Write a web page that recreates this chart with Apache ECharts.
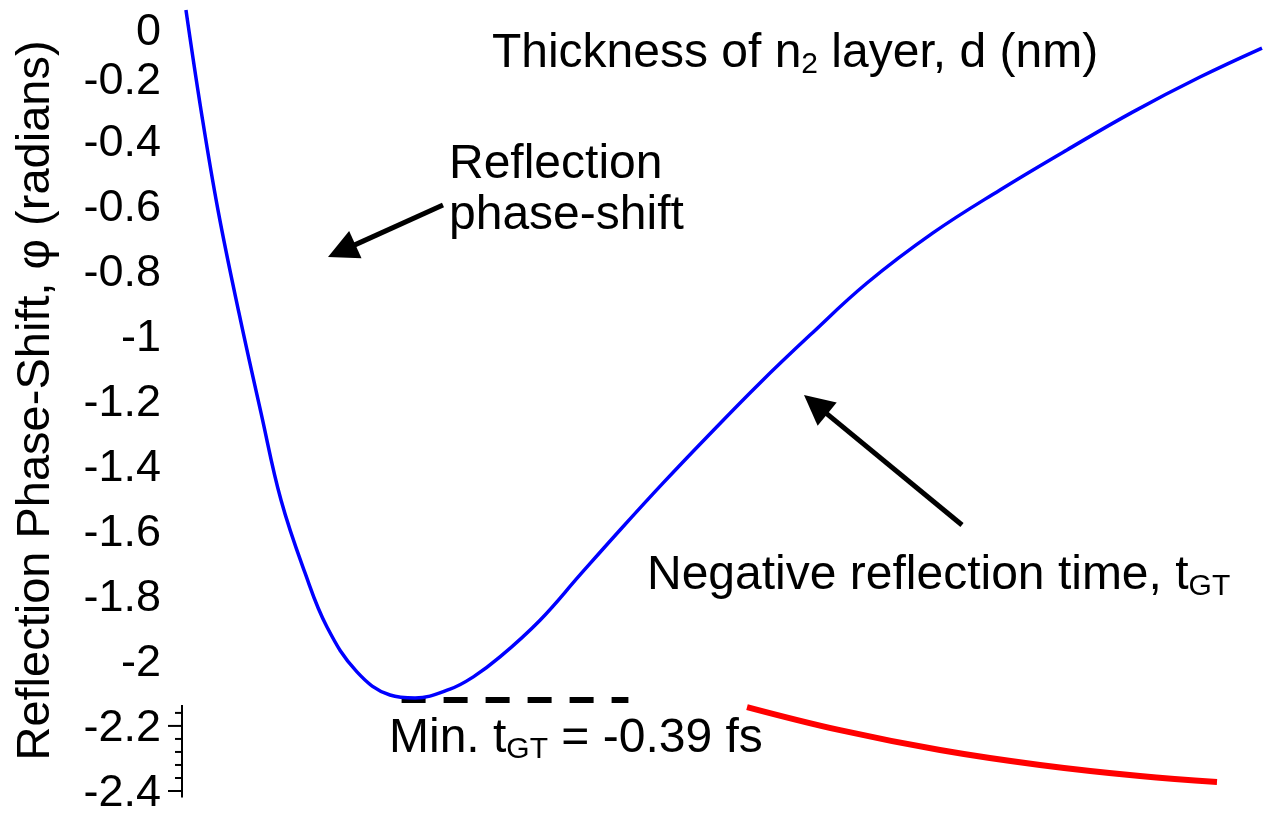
<!DOCTYPE html>
<html>
<head>
<meta charset="utf-8">
<title>Reflection phase-shift vs n2 layer thickness</title>
<script src="https://cdn.jsdelivr.net/npm/echarts@6/dist/echarts.min.js"></script>
<style>
  html, body { margin: 0; padding: 0; background: #fff; }
  #chart { width: 1264px; height: 817px; }
</style>
</head>
<body>
<div id="chart"></div>
<script>
// Thickness of the n2 layer, d (nm), and reflection phase-shift (radians)
const phaseD = [0.44, 2.11, 4.0, 6.33, 8.78, 11.0, 13.67, 16.11, 19.44, 23.11, 25.89,
  29.78, 32.33, 35.33, 39.78, 44.22, 48.67, 53.44, 58.33, 64.22, 69.78, 76.11, 83.44,
  90.89, 98.33, 105.67, 113.11, 120.0];
const phaseShift = [0.0, -0.307, -0.615, -0.931, -1.238, -1.506, -1.73, -1.896, -2.034, -2.105, -2.114,
  -2.087, -2.05, -1.988, -1.875, -1.736, -1.598, -1.454, -1.312, -1.146, -0.999, -0.839, -0.685,
  -0.553, -0.43, -0.313, -0.206, -0.117];

// Reflection time curve (drawn on the same vertical scale)
const tgtD = [62.78, 73.11, 84.22, 95.33, 106.44, 115.0];
const tgtCurve = [-2.142, -2.213, -2.274, -2.32, -2.354, -2.372];

// Level of the minimum and the span of its dashed marker
const minLevel = -2.12;
const minSpan = [24.4, 49.6];

// Vertical axis range and tick step
const yRange = [-2.4, 0];
const yStep = 0.2;

// Visible stub of the vertical axis with its ticks
const axisStub = [-2.136, -2.42];
const majorTickVals = [-2.2, -2.4];
const minorTickVals = [-2.16, -2.24, -2.28, -2.32, -2.36];

const xRange = [0, 120];

const FONT = '"Liberation Sans", Arial, Helvetica, sans-serif';

const zip = (xs, ys) => xs.map((x, i) => [x, ys[i]]);

const chart = echarts.init(document.getElementById('chart'), null, { renderer: 'canvas' });

function arrow(from, to) {
  const dx = to[0] - from[0], dy = to[1] - from[1];
  const L = Math.hypot(dx, dy);
  const ux = dx / L, uy = dy / L;
  const headLen = 30, headHalf = 15;
  const bx = to[0] - ux * headLen, by = to[1] - uy * headLen;
  return [
    { type: 'line', silent: true,
      shape: { x1: from[0], y1: from[1], x2: bx + ux * 3, y2: by + uy * 3 },
      style: { stroke: '#000', lineWidth: 5 } },
    { type: 'polygon', silent: true,
      shape: { points: [to, [bx - uy * headHalf, by + ux * headHalf], [bx + uy * headHalf, by - ux * headHalf]] },
      style: { fill: '#000' } }
  ];
}

const tickRich = {
  n: { fontSize: 45, fontFamily: FONT, color: '#000', padding: [6, 0, 0, 0] },
  w: { fontSize: 45, fontFamily: FONT, color: '#000', padding: [14, 0, 0, 0] },
  z: { fontSize: 45, fontFamily: FONT, color: '#000', padding: [46, 0, 0, 0] }
};

const textRich = {
  a: { fontSize: 48, fontFamily: FONT, color: '#000', lineHeight: 52 },
  s: { fontSize: 30, fontFamily: FONT, color: '#000', lineHeight: 26, verticalAlign: 'bottom' }
};

const option = {
  animation: false,
  backgroundColor: '#fff',
  grid: { left: 182, right: 2, top: 10, bottom: 26, containLabel: false, outerBoundsMode: 'none' },
  xAxis: {
    type: 'value', min: xRange[0], max: xRange[1], show: false
  },
  yAxis: {
    type: 'value', min: yRange[0], max: yRange[1], interval: yStep,
    axisLine: { show: false },
    axisTick: { show: false },
    splitLine: { show: false },
    axisLabel: {
      margin: 21,
      fontSize: 45, fontFamily: FONT, color: '#000',
      formatter: v => {
        const s = String(Math.round(v * 10) / 10);
        if (Math.abs(v) < 1e-9) return '{z|0}';
        if (Math.abs(v + 0.2) < 1e-9) return '{w|' + s + '}';
        return '{n|' + s + '}';
      },
      rich: tickRich
    },
    name: 'Reflection Phase-Shift, φ (radians)',
    nameLocation: 'middle',
    nameRotate: 90,
    nameGap: 122,
    nameTextStyle: { fontSize: 47, fontFamily: FONT, color: '#000' }
  },
  series: [
    {
      name: 'Reflection phase-shift',
      type: 'line',
      data: zip(phaseD, phaseShift),
      smooth: 0.4,
      showSymbol: false,
      lineStyle: { color: '#0000ff', width: 3.5 },
      z: 3
    },
    {
      name: 'Reflection time',
      type: 'line',
      data: zip(tgtD, tgtCurve),
      smooth: 0.4,
      showSymbol: false,
      lineStyle: { color: '#ff0000', width: 6, cap: 'butt' },
      z: 3
    },
    {
      name: 'Minimum',
      type: 'line',
      data: [[minSpan[0], minLevel], [minSpan[1], minLevel]],
      showSymbol: false,
      lineStyle: { color: '#000', width: 6, type: [24, 18], cap: 'butt' },
      z: 2
    },
    {
      name: 'Axis stub',
      type: 'custom',
      coordinateSystem: 'cartesian2d',
      silent: true,
      data: [[xRange[0], axisStub[0]]],
      renderItem: (params, api) => {
        const top = api.coord([xRange[0], axisStub[0]]);
        const bot = api.coord([xRange[0], axisStub[1]]);
        const children = [{
          type: 'line',
          shape: { x1: top[0], y1: top[1], x2: bot[0], y2: bot[1] },
          style: { stroke: '#000', lineWidth: 2 }
        }];
        majorTickVals.forEach(v => {
          const p = api.coord([xRange[0], v]);
          children.push({ type: 'line', shape: { x1: p[0] - 14, y1: p[1], x2: p[0], y2: p[1] },
            style: { stroke: '#000', lineWidth: 2 } });
        });
        minorTickVals.forEach(v => {
          const p = api.coord([xRange[0], v]);
          children.push({ type: 'line', shape: { x1: p[0] - 7, y1: p[1], x2: p[0], y2: p[1] },
            style: { stroke: '#000', lineWidth: 2 } });
        });
        return { type: 'group', children };
      }
    }
  ],
  graphic: [
    {
      type: 'text', silent: true, x: 795, y: 54,
      style: {
        text: '{a|Thickness of n}{s|2}{a| layer, d (nm)}',
        rich: textRich, align: 'center', verticalAlign: 'middle'
      }
    },
    {
      type: 'text', silent: true, x: 449, y: 190,
      style: {
        text: 'Reflection\nphase-shift',
        font: '48px ' + FONT, fill: '#000', lineHeight: 51,
        align: 'left', verticalAlign: 'middle'
      }
    },
    {
      type: 'text', silent: true, x: 647, y: 576,
      style: {
        text: '{a|Negative reflection time, t}{s|GT}',
        rich: textRich, align: 'left', verticalAlign: 'middle'
      }
    },
    {
      type: 'text', silent: true, x: 389, y: 739,
      style: {
        text: '{a|Min. t}{s|GT}{a| = -0.39 fs}',
        rich: textRich, align: 'left', verticalAlign: 'middle'
      }
    },
    ...arrow([443, 205], [328, 257]),
    ...arrow([962, 525], [804, 395])
  ]
};

chart.setOption(option);
</script>
</body>
</html>
